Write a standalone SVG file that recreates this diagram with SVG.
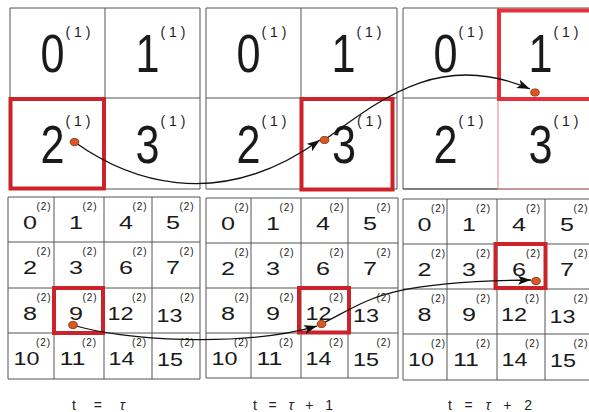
<svg xmlns="http://www.w3.org/2000/svg" width="589" height="412" viewBox="0 0 589 412">
<style>
.grid{fill:none;stroke:#555;stroke-width:1}
.big{font-family:"Liberation Sans",Arial,sans-serif;font-size:54px;fill:#1a1a1a;text-anchor:middle}
.sup1{font-family:"Liberation Sans",Arial,sans-serif;font-size:14px;fill:#1a1a1a}
.sm{font-family:"Liberation Sans",Arial,sans-serif;font-size:18px;fill:#1a1a1a;text-anchor:middle}
.sup2{font-family:"Liberation Sans",Arial,sans-serif;font-size:10px;fill:#1a1a1a}
.red{fill:none;stroke:#cc2229;stroke-width:4}
.red2{fill:none;stroke:#e8303c;stroke-width:4}
.pink{fill:none;stroke:#e8838a;stroke-width:1}
.dot{fill:#e0561f;stroke:#6a2a10;stroke-width:0.8}
.arrow{fill:none;stroke:#111;stroke-width:1.3}
.lbl{font-family:"Liberation Sans",Arial,"Noto Sans CJK JP",sans-serif;font-size:14px;fill:#222}
</style>
<defs>
<marker id="ah" markerUnits="userSpaceOnUse" markerWidth="14" markerHeight="10" refX="13" refY="4.5" orient="auto">
<path d="M0,0 L13,4.5 L0,9 L3,4.5 z" fill="#111"/>
</marker>
</defs>
<rect width="589" height="412" fill="#fff"/>

<!-- Top panels -->
<g id="top1">
<path class="grid" d="M10,8 H200 V189 H10 Z M105,8 V189 M10,98 H200"/>
<text class="big" transform="translate(52.5,72) scale(0.8,1)">0</text>
<text class="sup1" x="65.5" y="37" textLength="25" lengthAdjust="spacing">(1)</text>
<text class="big" transform="translate(147.5,72) scale(0.8,1)">1</text>
<text class="sup1" x="160.5" y="37" textLength="25" lengthAdjust="spacing">(1)</text>
<text class="big" transform="translate(52.5,163) scale(0.8,1)">2</text>
<text class="sup1" x="65.5" y="126" textLength="25" lengthAdjust="spacing">(1)</text>
<text class="big" transform="translate(147.5,163) scale(0.8,1)">3</text>
<text class="sup1" x="160.5" y="126" textLength="25" lengthAdjust="spacing">(1)</text>
<rect class="red" x="10.5" y="99" width="93.5" height="89.5"/>
</g>
<g id="top2">
<path class="grid" d="M206,8 H397 V189 H206 Z M301,8 V189 M206,98 H397"/>
<text class="big" transform="translate(248.5,72) scale(0.8,1)">0</text>
<text class="sup1" x="261.5" y="37" textLength="25" lengthAdjust="spacing">(1)</text>
<text class="big" transform="translate(343.5,72) scale(0.8,1)">1</text>
<text class="sup1" x="356.5" y="37" textLength="25" lengthAdjust="spacing">(1)</text>
<text class="big" transform="translate(248.5,163) scale(0.8,1)">2</text>
<text class="sup1" x="261.5" y="126" textLength="25" lengthAdjust="spacing">(1)</text>
<text class="big" transform="translate(344,163) scale(0.8,1)">3</text>
<text class="sup1" x="357" y="126" textLength="25" lengthAdjust="spacing">(1)</text>
<rect class="red" x="301.5" y="99" width="91" height="90.5"/>
</g>
<g id="top3">
<path class="grid" d="M403,8 H595 V189 H403 Z M498,8 V98 M403,98 H498 M403,189 H498"/>
<path class="pink" d="M498,99 V189 H595"/>
<text class="big" transform="translate(445.5,72) scale(0.8,1)">0</text>
<text class="sup1" x="458.5" y="37" textLength="25" lengthAdjust="spacing">(1)</text>
<text class="big" transform="translate(540.5,72) scale(0.8,1)">1</text>
<text class="sup1" x="553.5" y="37" textLength="25" lengthAdjust="spacing">(1)</text>
<text class="big" transform="translate(445.5,163) scale(0.8,1)">2</text>
<text class="sup1" x="458.5" y="126" textLength="25" lengthAdjust="spacing">(1)</text>
<text class="big" transform="translate(540.5,163) scale(0.8,1)">3</text>
<text class="sup1" x="553.5" y="126" textLength="25" lengthAdjust="spacing">(1)</text>
<rect class="red2" x="499" y="10.5" width="92" height="88.5"/>
</g>

<!-- Bottom panels -->
<g id="bot1">
<path class="grid" d="M8,197 H200 V379 H8 Z M54,197 V379 M104,197 V379 M152,197 V379 M8,242 H200 M8,288 H200 M8,333 H200"/>
<text class="sm" x="30" y="228.5" textLength="14" lengthAdjust="spacingAndGlyphs">0</text><text class="sup2" x="36.5" y="210" textLength="14" lengthAdjust="spacing">(2)</text>
<text class="sm" x="76" y="228.5" textLength="14" lengthAdjust="spacingAndGlyphs">1</text><text class="sup2" x="82.5" y="210" textLength="14" lengthAdjust="spacing">(2)</text>
<text class="sm" x="126" y="228.5" textLength="14" lengthAdjust="spacingAndGlyphs">4</text><text class="sup2" x="132.5" y="210" textLength="14" lengthAdjust="spacing">(2)</text>
<text class="sm" x="173" y="228.5" textLength="14" lengthAdjust="spacingAndGlyphs">5</text><text class="sup2" x="179.5" y="210" textLength="14" lengthAdjust="spacing">(2)</text>
<text class="sm" x="30" y="274" textLength="14" lengthAdjust="spacingAndGlyphs">2</text><text class="sup2" x="36.5" y="255" textLength="14" lengthAdjust="spacing">(2)</text>
<text class="sm" x="76" y="274" textLength="14" lengthAdjust="spacingAndGlyphs">3</text><text class="sup2" x="82.5" y="255" textLength="14" lengthAdjust="spacing">(2)</text>
<text class="sm" x="126" y="274" textLength="14" lengthAdjust="spacingAndGlyphs">6</text><text class="sup2" x="132.5" y="255" textLength="14" lengthAdjust="spacing">(2)</text>
<text class="sm" x="173" y="274" textLength="14" lengthAdjust="spacingAndGlyphs">7</text><text class="sup2" x="179.5" y="255" textLength="14" lengthAdjust="spacing">(2)</text>
<text class="sm" x="30" y="320" textLength="14" lengthAdjust="spacingAndGlyphs">8</text><text class="sup2" x="36.5" y="301" textLength="14" lengthAdjust="spacing">(2)</text>
<text class="sm" x="76" y="320" textLength="14" lengthAdjust="spacingAndGlyphs">9</text><text class="sup2" x="82.5" y="301" textLength="14" lengthAdjust="spacing">(2)</text>
<text class="sm" x="120.5" y="320" textLength="26" lengthAdjust="spacingAndGlyphs">12</text><text class="sup2" x="132" y="301" textLength="14" lengthAdjust="spacing">(2)</text>
<text class="sm" x="169.5" y="322" textLength="26" lengthAdjust="spacingAndGlyphs">13</text><text class="sup2" x="180" y="301" textLength="14" lengthAdjust="spacing">(2)</text>
<text class="sm" x="26.5" y="365" textLength="26" lengthAdjust="spacingAndGlyphs">10</text><text class="sup2" x="36" y="346" textLength="14" lengthAdjust="spacing">(2)</text>
<text class="sm" x="72.5" y="365" textLength="26" lengthAdjust="spacingAndGlyphs">11</text><text class="sup2" x="82" y="346" textLength="14" lengthAdjust="spacing">(2)</text>
<text class="sm" x="121.5" y="365" textLength="26" lengthAdjust="spacingAndGlyphs">14</text><text class="sup2" x="132" y="346" textLength="14" lengthAdjust="spacing">(2)</text>
<text class="sm" x="170" y="366" textLength="26" lengthAdjust="spacingAndGlyphs">15</text><text class="sup2" x="180" y="346" textLength="14" lengthAdjust="spacing">(2)</text>
<rect class="red" x="54" y="288" width="49" height="45"/>
</g>
<g id="bot2">
<path class="grid" d="M206,198 H398 V378 H206 Z M251,198 V378 M301,198 V378 M348,198 V378 M206,243 H398 M206,288 H398 M206,333 H398"/>
<text class="sm" x="228" y="229.5" textLength="14" lengthAdjust="spacingAndGlyphs">0</text><text class="sup2" x="234.5" y="211" textLength="14" lengthAdjust="spacing">(2)</text>
<text class="sm" x="273" y="229.5" textLength="14" lengthAdjust="spacingAndGlyphs">1</text><text class="sup2" x="279.5" y="211" textLength="14" lengthAdjust="spacing">(2)</text>
<text class="sm" x="323" y="229.5" textLength="14" lengthAdjust="spacingAndGlyphs">4</text><text class="sup2" x="329.5" y="211" textLength="14" lengthAdjust="spacing">(2)</text>
<text class="sm" x="370" y="229.5" textLength="14" lengthAdjust="spacingAndGlyphs">5</text><text class="sup2" x="376.5" y="211" textLength="14" lengthAdjust="spacing">(2)</text>
<text class="sm" x="228" y="275" textLength="14" lengthAdjust="spacingAndGlyphs">2</text><text class="sup2" x="234.5" y="256" textLength="14" lengthAdjust="spacing">(2)</text>
<text class="sm" x="273" y="275" textLength="14" lengthAdjust="spacingAndGlyphs">3</text><text class="sup2" x="279.5" y="256" textLength="14" lengthAdjust="spacing">(2)</text>
<text class="sm" x="323" y="275" textLength="14" lengthAdjust="spacingAndGlyphs">6</text><text class="sup2" x="329.5" y="256" textLength="14" lengthAdjust="spacing">(2)</text>
<text class="sm" x="370" y="275" textLength="14" lengthAdjust="spacingAndGlyphs">7</text><text class="sup2" x="376.5" y="256" textLength="14" lengthAdjust="spacing">(2)</text>
<text class="sm" x="228" y="320" textLength="14" lengthAdjust="spacingAndGlyphs">8</text><text class="sup2" x="234.5" y="301" textLength="14" lengthAdjust="spacing">(2)</text>
<text class="sm" x="273" y="320" textLength="14" lengthAdjust="spacingAndGlyphs">9</text><text class="sup2" x="279.5" y="301" textLength="14" lengthAdjust="spacing">(2)</text>
<text class="sm" x="318.5" y="320" textLength="26" lengthAdjust="spacingAndGlyphs">12</text><text class="sup2" x="329" y="301" textLength="14" lengthAdjust="spacing">(2)</text>
<text class="sm" x="366" y="322" textLength="26" lengthAdjust="spacingAndGlyphs">13</text><text class="sup2" x="376.5" y="301" textLength="14" lengthAdjust="spacing">(2)</text>
<text class="sm" x="224.5" y="365" textLength="26" lengthAdjust="spacingAndGlyphs">10</text><text class="sup2" x="234" y="346" textLength="14" lengthAdjust="spacing">(2)</text>
<text class="sm" x="269.5" y="365" textLength="26" lengthAdjust="spacingAndGlyphs">11</text><text class="sup2" x="279" y="346" textLength="14" lengthAdjust="spacing">(2)</text>
<text class="sm" x="318.5" y="365" textLength="26" lengthAdjust="spacingAndGlyphs">14</text><text class="sup2" x="329" y="346" textLength="14" lengthAdjust="spacing">(2)</text>
<text class="sm" x="366" y="366" textLength="26" lengthAdjust="spacingAndGlyphs">15</text><text class="sup2" x="376.5" y="346" textLength="14" lengthAdjust="spacing">(2)</text>
<rect class="red" x="299" y="288" width="50" height="44.5"/>
</g>
<g id="bot3">
<path class="grid" d="M403,199 H595 V380 H403 Z M447,199 V380 M497,199 V380 M545,199 V380 M403,244 H595 M403,289 H595 M403,334 H595"/>
<text class="sm" x="424.5" y="230.5" textLength="14" lengthAdjust="spacingAndGlyphs">0</text><text class="sup2" x="431" y="212" textLength="14" lengthAdjust="spacing">(2)</text>
<text class="sm" x="469" y="230.5" textLength="14" lengthAdjust="spacingAndGlyphs">1</text><text class="sup2" x="476" y="212" textLength="14" lengthAdjust="spacing">(2)</text>
<text class="sm" x="519" y="230.5" textLength="14" lengthAdjust="spacingAndGlyphs">4</text><text class="sup2" x="526" y="212" textLength="14" lengthAdjust="spacing">(2)</text>
<text class="sm" x="567" y="230.5" textLength="14" lengthAdjust="spacingAndGlyphs">5</text><text class="sup2" x="573.5" y="212" textLength="14" lengthAdjust="spacing">(2)</text>
<text class="sm" x="424.5" y="276" textLength="14" lengthAdjust="spacingAndGlyphs">2</text><text class="sup2" x="431" y="257" textLength="14" lengthAdjust="spacing">(2)</text>
<text class="sm" x="469" y="276" textLength="14" lengthAdjust="spacingAndGlyphs">3</text><text class="sup2" x="476" y="257" textLength="14" lengthAdjust="spacing">(2)</text>
<text class="sm" x="519" y="276" textLength="14" lengthAdjust="spacingAndGlyphs">6</text><text class="sup2" x="526" y="257" textLength="14" lengthAdjust="spacing">(2)</text>
<text class="sm" x="567" y="276" textLength="14" lengthAdjust="spacingAndGlyphs">7</text><text class="sup2" x="573.5" y="257" textLength="14" lengthAdjust="spacing">(2)</text>
<text class="sm" x="424.5" y="321" textLength="14" lengthAdjust="spacingAndGlyphs">8</text><text class="sup2" x="431" y="302" textLength="14" lengthAdjust="spacing">(2)</text>
<text class="sm" x="469" y="321" textLength="14" lengthAdjust="spacingAndGlyphs">9</text><text class="sup2" x="476" y="302" textLength="14" lengthAdjust="spacing">(2)</text>
<text class="sm" x="514" y="321" textLength="26" lengthAdjust="spacingAndGlyphs">12</text><text class="sup2" x="525" y="302" textLength="14" lengthAdjust="spacing">(2)</text>
<text class="sm" x="562.5" y="323" textLength="26" lengthAdjust="spacingAndGlyphs">13</text><text class="sup2" x="573.5" y="302" textLength="14" lengthAdjust="spacing">(2)</text>
<text class="sm" x="421" y="366" textLength="26" lengthAdjust="spacingAndGlyphs">10</text><text class="sup2" x="431" y="347" textLength="14" lengthAdjust="spacing">(2)</text>
<text class="sm" x="466" y="366" textLength="26" lengthAdjust="spacingAndGlyphs">11</text><text class="sup2" x="476" y="347" textLength="14" lengthAdjust="spacing">(2)</text>
<text class="sm" x="514.5" y="366" textLength="26" lengthAdjust="spacingAndGlyphs">14</text><text class="sup2" x="525" y="347" textLength="14" lengthAdjust="spacing">(2)</text>
<text class="sm" x="563" y="367" textLength="26" lengthAdjust="spacingAndGlyphs">15</text><text class="sup2" x="573.5" y="347" textLength="14" lengthAdjust="spacing">(2)</text>
<rect class="red" x="495.5" y="244" width="50" height="44"/>
</g>

<!-- Connectors -->
<g id="connectors">
<path class="arrow" d="M74.5,142 C125,178 215,215 320,140" marker-end="url(#ah)"/>
<path class="arrow" d="M324.5,140 C380,100 440,50 530,89" marker-end="url(#ah)"/>
<path class="arrow" d="M73,325 C120,340 240,348 317,326" marker-end="url(#ah)"/>
<path class="arrow" d="M321.5,324 C370,300 380,282 531,280" marker-end="url(#ah)"/>
<ellipse class="dot" cx="74.5" cy="142" rx="4.3" ry="3.6"/>
<ellipse class="dot" cx="324.5" cy="140" rx="4.3" ry="3.6"/>
<ellipse class="dot" cx="535" cy="92.5" rx="4.3" ry="3.6"/>
<ellipse class="dot" cx="73" cy="325" rx="4.3" ry="3.6"/>
<ellipse class="dot" cx="321.5" cy="324" rx="4.3" ry="3.6"/>
<ellipse class="dot" cx="536" cy="281" rx="4.3" ry="3.6"/>
</g>

<!-- Labels -->
<g id="labels">
<text class="lbl" x="72" y="410" textLength="53" lengthAdjust="spacing">t = <tspan font-style="italic">τ</tspan></text>
<text class="lbl" x="253" y="410" textLength="80" lengthAdjust="spacing">t = <tspan font-style="italic">τ</tspan> + 1</text>
<text class="lbl" x="448" y="410" textLength="84" lengthAdjust="spacing">t = <tspan font-style="italic">τ</tspan> + 2</text>
</g>
</svg>
